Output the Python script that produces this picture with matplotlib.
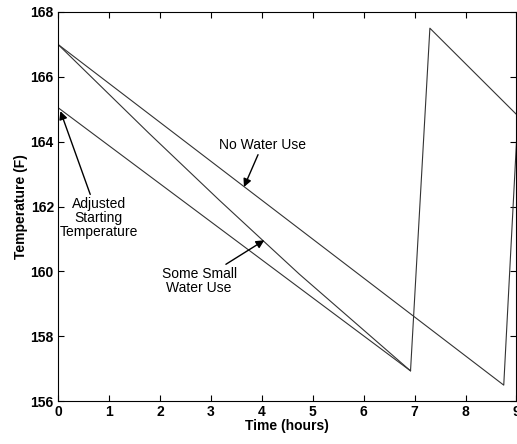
import matplotlib
matplotlib.use("Agg")
import matplotlib.pyplot as plt

# time (hours) / temperature (F)
no_use_t = [0, 8.75, 9.1]
no_use_temp = [167.0, 156.49, 167.0]

small_use_t = [0, 1.785, 3.163, 4.016, 4.74, 6.92, 7.30, 9.0]
small_use_temp = [167.0, 164.26, 162.20, 160.96, 159.91, 156.93, 167.5, 164.84]

adjusted_t = [0, 6.92]
adjusted_temp = [165.05, 156.93]

xticks = list(range(0, 10))
yticks = list(range(156, 169, 2))

plt.rcParams['font.family'] = ['Liberation Sans', 'DejaVu Sans']

fig = plt.figure(figsize=(5.17, 4.44), dpi=100)
ax = fig.add_axes([0.1122, 0.0968, 0.8868, 0.8762])

lc = "#333333"
ax.plot(no_use_t, no_use_temp, color=lc, lw=0.8)
ax.plot(small_use_t, small_use_temp, color=lc, lw=0.8)
ax.plot(adjusted_t, adjusted_temp, color=lc, lw=0.8)

ax.set_xlim(0, 9)
ax.set_ylim(156, 168)
ax.set_xticks(xticks)
ax.set_yticks(yticks)
ax.tick_params(direction="in", length=4, top=True, right=True, labelsize=10, pad=3)
for lab in ax.get_xticklabels() + ax.get_yticklabels():
    lab.set_fontweight("bold")
for sp in ax.spines.values():
    sp.set_linewidth(0.8)

ax.set_xlabel("Time (hours)", fontsize=10, fontweight="bold", labelpad=0)
ax.set_ylabel("Temperature (F)", fontsize=10, fontweight="bold", labelpad=2)

arw = dict(arrowstyle="-|>", color="black", lw=1.0, mutation_scale=12, shrinkA=0, shrinkB=0)
ax.annotate("No Water Use", xy=(3.65, 162.6), xytext=(4.01, 163.9),
            ha="center", va="center", fontsize=10, arrowprops=arw)
ax.annotate("Some Small\nWater Use", xy=(4.05, 160.96), xytext=(2.77, 159.7),
            ha="center", va="center", fontsize=10, linespacing=1.0, arrowprops=arw)
ax.annotate("Adjusted\nStarting\nTemperature", xy=(0.047, 164.94), xytext=(0.8, 161.64),
            ha="center", va="center", fontsize=10, linespacing=1.0, arrowprops=arw)

fig.savefig("out.png", dpi=100)
